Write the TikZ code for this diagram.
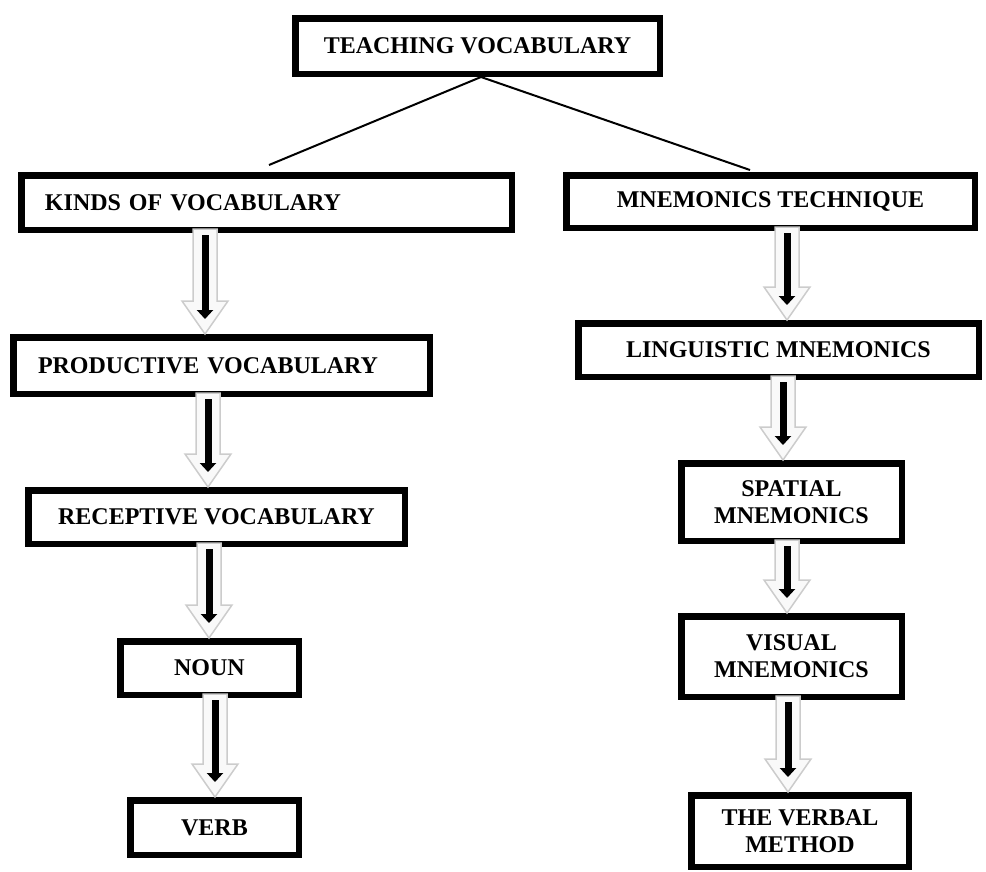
\documentclass[tikz,border=0pt]{standalone}
\usepackage{fontspec}
\setmainfont{Liberation Serif}
\usetikzlibrary{calc,arrows.meta}

\newcommand{\blockarrow}[3]{%
  \filldraw[hollowarrow] let \p1=(#2.south), \p2=(#3.north) in
    (#1pt-12pt,\y1+4pt) -- (#1pt-12pt,\y2+33pt) -- (#1pt-23pt,\y2+33pt) -- (#1pt,\y2)
    -- (#1pt+23pt,\y2+33pt) -- (#1pt+12pt,\y2+33pt) -- (#1pt+12pt,\y1+4pt) -- cycle;
  \draw[innerarrow] let \p1=(#2.south), \p2=(#3.north) in
    (#1pt,\y1-2pt) -- (#1pt,\y2+15pt);
}

\begin{document}
\begin{tikzpicture}[x=1pt,y=-1pt,line cap=butt,
  font=\fontsize{24}{27}\selectfont\bfseries,
  boxed/.style={draw,line width=6.5pt,inner sep=0pt,align=center},
  hollowarrow/.style={fill=gray!5,draw=gray!40,line width=1.5pt,line join=miter},
  innerarrow/.style={line width=7pt,-{Triangle[length=9pt,width=16pt]}}]
  \useasboundingbox (0,0) rectangle (986,871);
  \node[boxed,minimum width=364.5,minimum height=55.5] (teach) at (477.5,46) {TEACHING VOCABULARY};
  \node[boxed,minimum width=490.5,minimum height=54.5,text width=443,align=left] (kinds) at (266.5,202.5) {KINDS OF VOCABULARY};
  \node[boxed,minimum width=408.5,minimum height=52.5] (mnem) at (770.5,201.5) {MNEMONICS TECHNIQUE};
  \node[boxed,minimum width=416.5,minimum height=56.5,text width=367,align=left] (prod) at (221.5,365.5) {PRODUCTIVE VOCABULARY};
  \node[boxed,minimum width=400.5,minimum height=53.5] (ling) at (778.5,350) {LINGUISTIC MNEMONICS};
  \node[boxed,minimum width=376.5,minimum height=53.5] (rec) at (216.5,517) {RECEPTIVE VOCABULARY};
  \node[boxed,minimum width=178.5,minimum height=53.5] (noun) at (209.5,668) {NOUN};
  \node[boxed,minimum width=168.5,minimum height=54.5] (verb) at (214.5,827.5) {VERB};
  \node[boxed,minimum width=220.5,minimum height=77.5] (spatial) at (791.5,502) {SPATIAL\\MNEMONICS};
  \node[boxed,minimum width=220.5,minimum height=80.5] (visual) at (791.5,656.5) {VISUAL\\MNEMONICS};
  \node[boxed,minimum width=217.5,minimum height=71.5] (verbal) at (800,831) {THE VERBAL\\METHOD};

  \coordinate (kindsend) at (269,165);
  \coordinate (mnemend) at (750,170);
  \draw[line width=2pt] ([xshift=3.5pt]teach.south) -- (kindsend);
  \draw[line width=2pt] ([xshift=3.5pt]teach.south) -- (mnemend);

  \blockarrow{205}{kinds}{prod}
  \blockarrow{208}{prod}{rec}
  \blockarrow{209}{rec}{noun}
  \blockarrow{215}{noun}{verb}
  \blockarrow{787}{mnem}{ling}
  \blockarrow{783}{ling}{spatial}
  \blockarrow{787}{spatial}{visual}
  \blockarrow{788}{visual}{verbal}
\end{tikzpicture}
\end{document}
